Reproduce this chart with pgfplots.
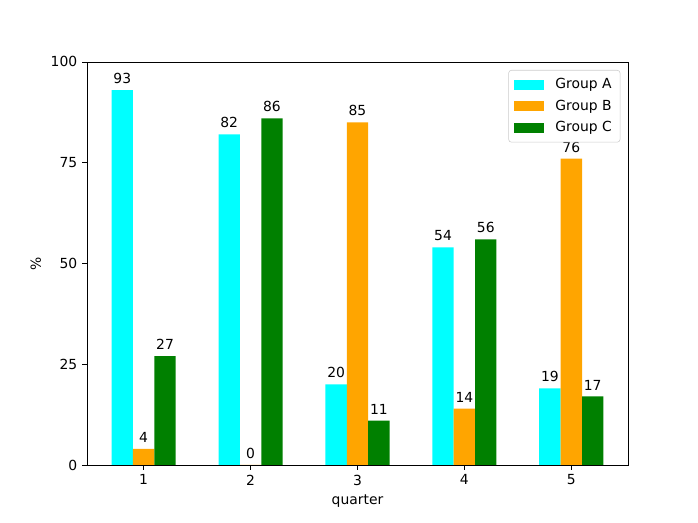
\documentclass[border=0pt]{standalone}
\usepackage{fontspec}
\setmainfont{DejaVu Sans}
\usepackage{pgfplots}
\pgfplotsset{compat=1.18}
\definecolor{grpA}{RGB}{0,255,255}
\definecolor{grpB}{RGB}{255,165,0}
\definecolor{grpC}{RGB}{0,128,0}
\begin{document}
\begin{tikzpicture}
\begin{axis}[scale only axis,
width=389.5pt, height=290.2pt,
xmin=0.47, xmax=5.53, ymin=0, ymax=100,
xtick={1,2,3,4,5},
ytick={0,25,50,75,100},
xtick pos=left, ytick pos=left,
tick align=outside,
major tick length=3.5pt,
tick style={black, line width=0.6pt},
axis line style={line width=0.6pt},
/pgf/number format/assume math mode=true,
tick label style={font=\fontsize{10}{12}\selectfont},
label style={font=\fontsize{10}{12}\selectfont},
xlabel={quarter}, ylabel={\%},
ybar, bar width=0.2,
nodes near coords,
point meta=y,
every node near coord/.append style={font=\fontsize{10}{12}\selectfont, black, /pgf/number format/fixed, /pgf/number format/precision=0, /pgf/number format/assume math mode=true, yshift=1pt},
legend cell align=left,
legend image code/.code={\fill[#1, fill opacity=1, sharp corners] (0pt,-3.6pt) rectangle (21.6pt,3.6pt);},
legend style={at={(1,1)}, anchor=north east, xshift=-5.5pt, yshift=-5.8pt,
  draw=black!20, fill=white, fill opacity=0.8, text opacity=1, rounded corners=2pt,
  font=\fontsize{10}{12}\selectfont, row sep=2.5pt, column sep=6pt, inner xsep=4pt, inner ysep=4pt},
]
\coordinate (sw) at (rel axis cs:0,0);
\addplot[fill=grpA, draw=none, bar shift=-0.2] coordinates {(1,93) (2,82) (3,20) (4,54) (5,19)};
\addlegendentry{Group A}
\addplot[fill=grpB, draw=none, bar shift=0] coordinates {(1,4) (2,0) (3,85) (4,14) (5,76)};
\addlegendentry{Group B}
\addplot[fill=grpC, draw=none, bar shift=0.2] coordinates {(1,27) (2,86) (3,11) (4,56) (5,17)};
\addlegendentry{Group C}
\end{axis}
\pgfresetboundingbox
\path (sw) ++(-62.64pt,-41.76pt) rectangle ++(502.56pt,376.56pt);
\end{tikzpicture}
\end{document}
